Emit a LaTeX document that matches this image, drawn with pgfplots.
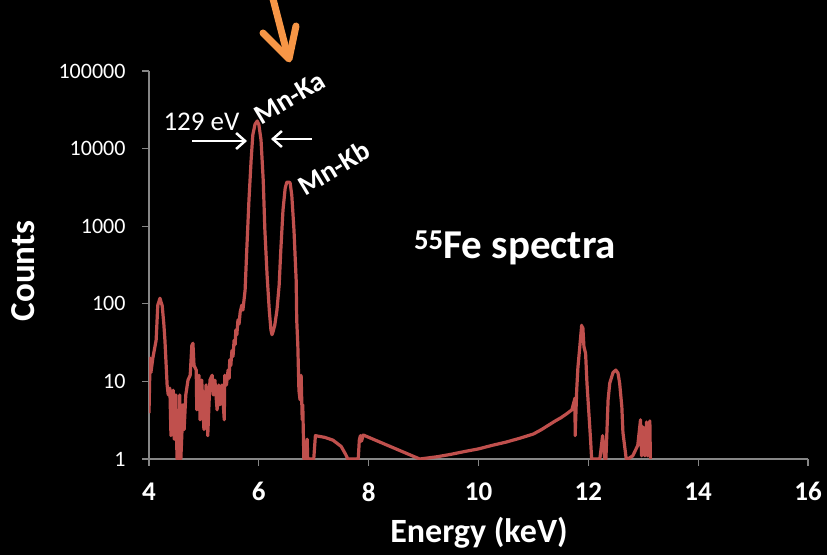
\documentclass[border=0pt]{standalone}
\usepackage{fontspec}
\setmainfont{Carlito}
\usepackage{pgfplots}
\pgfplotsset{compat=1.18}
\usetikzlibrary{arrows.meta}
\definecolor{spec}{HTML}{C0504D}
\definecolor{arr}{HTML}{F79646}
\definecolor{axg}{HTML}{868686}
\begin{document}
\begin{tikzpicture}[x=1pt,y=1pt]
\fill[black] (0,0) rectangle (827,555);
\path[use as bounding box] (0,0) rectangle (827,555);
\begin{axis}[at={(149pt,96pt)}, anchor=south west, scale only axis,
  width=659pt, height=388pt, ymode=log, log basis y=10,
  xmin=4, xmax=16, ymin=1, ymax=100000,
  axis x line*=bottom, axis y line*=left,
  axis line style={axg, line width=1.3pt},
  xtick={4,6,8,10,12,14,16}, xticklabels={4,6,8,10,12,14,16},
  ytick={1,10,100,1000,10000,100000}, yticklabels={1,10,100,1000,10000,100000},
  minor tick style={draw=none},
  tick style={axg, line width=1.3pt}, major tick length=7pt, tick align=outside,
  xticklabel style={font=\bfseries\fontsize{27}{30}\selectfont, text=white, yshift=-13pt},
  yticklabel style={font=\fontsize{22}{24}\selectfont, text=white, xshift=-13pt},
  /pgf/number format/assume math mode=true]
\addplot[spec, line width=3.2pt, line join=round] coordinates {
(4.00,3.9)(4.02,20)(4.035,13)(4.07,20)(4.13,34)(4.16,96)(4.20,118)(4.22,105)
(4.24,95)(4.27,55)(4.29,34)(4.33,9)(4.35,6.7)(4.38,8.2)(4.40,2)(4.44,7.7)
(4.46,1.8)(4.49,6.7)(4.51,1)(4.53,3.2)(4.55,1)(4.56,6.7)(4.58,1)(4.62,5)
(4.64,2.4)(4.67,6.7)(4.71,10.4)(4.75,12)(4.78,29)(4.80,31)(4.82,16)(4.86,14)
(4.87,4.3)(4.91,12)(4.93,3.2)(4.96,10.4)(5.00,2.4)(5.04,9)(5.07,2)(5.11,10.4)
(5.15,12)(5.17,6.7)(5.20,10.4)(5.24,4.3)(5.27,9)(5.29,5)(5.33,9)(5.37,3.2)
(5.38,12)(5.41,9)(5.44,14)(5.46,11)(5.47,19)(5.49,16)(5.51,25)(5.53,21)(5.55,34)
(5.57,30)(5.58,46)(5.60,40)(5.62,62)(5.64,55)(5.66,78)
(5.69,96)(5.71,83)(5.75,150)(5.78,490)(5.82,2160)(5.86,7200)(5.89,15000)
(5.93,20500)(5.97,22700)(6.00,20500)(6.04,12900)(6.08,3900)(6.11,890)
(6.15,235)(6.19,83)(6.22,46)(6.24,40)(6.26,44)(6.29,53)(6.33,83)(6.37,175)
(6.40,490)(6.44,1620)(6.48,3100)(6.51,3700)(6.55,3700)(6.57,3600)(6.60,2500)
(6.64,890)(6.68,200)(6.69,62)(6.71,29)(6.73,7.7)(6.75,5.8)(6.77,12)(6.79,3.2)
(6.80,5)(6.82,1)(6.86,1)(6.88,1.8)(6.89,1)(7.00,1)(7.03,2.0)(7.2,1.9)
(7.35,1.75)(7.5,1.45)(7.58,1.15)(7.62,1)(7.81,1)(7.83,1.76)(7.85,2.0)
(7.87,1.7)(7.90,2.04)(8.93,1)(9.25,1.07)(9.5,1.15)(9.75,1.25)(10,1.35)
(10.25,1.5)(10.5,1.65)(10.75,1.85)(11,2.1)(11.15,2.4)(11.3,2.8)(11.4,3.1)
(11.5,3.4)(11.6,3.8)(11.70,4.3)(11.757,6.1)(11.76,2.0)(11.788,7.7)(11.81,15)(11.85,31)
(11.879,53)(11.894,37)(11.90,50)(11.92,28)(11.95,23)(11.975,9.5)(12.01,3.9)
(12.04,1.8)(12.06,1)(12.21,1)(12.26,2)(12.30,1)(12.32,1)(12.36,5.8)(12.39,9.5)
(12.45,13)(12.50,14)(12.54,12.8)(12.57,9.5)(12.61,4.7)(12.63,2.2)(12.69,1)
(12.72,1)(12.81,1.1)(12.90,1.5)(12.95,3.2)(12.97,1.1)(12.99,2.6)(13.03,1.1)
(13.06,3.0)(13.08,1.1)(13.12,3.1)(13.13,1)
};
\end{axis}
% axis titles
\node[text=white, rotate=90, font=\bfseries\fontsize{35}{40}\selectfont] at (23,284) {Counts};
\node[text=white, font=\bfseries\fontsize{34}{38}\selectfont] at (479,22) {Energy (keV)};
\node[text=white, font=\bfseries\fontsize{41}{45}\selectfont] at (515,307) {\textsuperscript{55}Fe spectra};
% annotations
\node[text=white, font=\fontsize{27}{29}\selectfont] at (201.5,433) {129 eV};
\draw[white, line width=2.5pt, -{Straight Barb[length=9pt,width=16pt]}] (192,414)--(247,414);
\draw[white, line width=2.5pt, -{Straight Barb[length=9pt,width=16pt]}] (312,416)--(271,416);
\node[text=white, rotate=31, font=\bfseries\fontsize{28}{30}\selectfont] at (290,457) {Mn-Ka};
\node[text=white, rotate=31, font=\bfseries\fontsize{28}{30}\selectfont] at (334,387) {Mn-Kb};
\draw[arr, line width=7pt, line cap=round] (272,560)--(287,502);
\draw[arr, line width=7pt, line cap=round, line join=round] (263,522)--(289,496)--(296,529);
\end{tikzpicture}
\end{document}
